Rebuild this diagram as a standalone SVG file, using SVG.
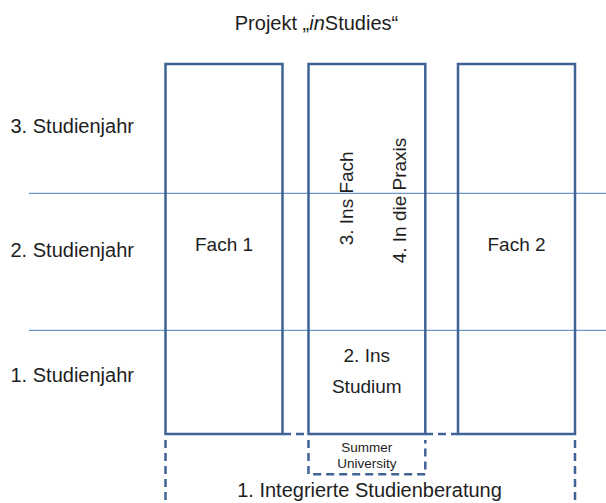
<svg xmlns="http://www.w3.org/2000/svg" width="606" height="503" viewBox="0 0 606 503">
<style>
  text { font-family: "Liberation Sans", Arial, sans-serif; fill: #1e1e1e; }
  .lbl { font-size: 20px; }
  .box { font-size: 19px; }
  .small { font-size: 13.5px; }
  .rule { stroke: #4a7ebb; stroke-width: 1; fill: none; }
  .frame { stroke: #3f6396; stroke-width: 2.5; fill: none; }
  .dash { stroke: #3f6396; stroke-width: 2.5; fill: none; stroke-dasharray: 8 5; }
</style>
<rect width="606" height="503" fill="#ffffff"/>
<text id="title" class="lbl" x="316.5" y="30" text-anchor="middle">Projekt „<tspan font-style="italic">in</tspan>Studies“</text>
<g id="rows">
  <text class="lbl" x="10.5" y="133.3">3. Studienjahr</text>
  <text class="lbl" x="10.5" y="256.7">2. Studienjahr</text>
  <text class="lbl" x="10.5" y="381.7">1. Studienjahr</text>
</g>
<g id="connectors">
  <line class="rule" x1="29" y1="193.3" x2="606" y2="193.3"/>
  <line class="rule" x1="29" y1="330.3" x2="606" y2="330.3"/>
  <line class="dash" x1="283" y1="434" x2="308" y2="434"/>
  <line class="dash" x1="425" y1="434" x2="458" y2="434"/>
  <line class="dash" x1="165.5" y1="440" x2="165.5" y2="503"/>
  <line class="dash" x1="575" y1="440" x2="575" y2="503"/>
</g>
<g id="fach1">
  <rect class="frame" x="165.5" y="64" width="117" height="370"/>
  <text class="box" x="224" y="251" text-anchor="middle">Fach 1</text>
</g>
<g id="mitte">
  <rect class="frame" x="308.5" y="64" width="116.8" height="370"/>
  <text class="box" transform="translate(353.3,198.3) rotate(-90)" text-anchor="middle">3. Ins Fach</text>
  <text class="box" transform="translate(406,200.5) rotate(-90)" text-anchor="middle">4. In die Praxis</text>
  <text class="box" x="366.8" y="361.7" text-anchor="middle">2. Ins</text>
  <text class="box" x="366.8" y="393.3" text-anchor="middle">Studium</text>
</g>
<g id="fach2">
  <rect class="frame" x="458" y="64" width="117" height="370"/>
  <text class="box" x="516.5" y="251" text-anchor="middle">Fach 2</text>
</g>
<g id="summer">
  <path class="dash" d="M308.5,440 V474.3 H425.3 V440"/>
  <text class="small" x="366.8" y="452.3" text-anchor="middle">Summer</text>
  <text class="small" x="366.8" y="468.3" text-anchor="middle">University</text>
</g>
<g id="beratung">
  <text class="lbl" x="369.5" y="497" text-anchor="middle">1. Integrierte Studienberatung</text>
</g>
</svg>
